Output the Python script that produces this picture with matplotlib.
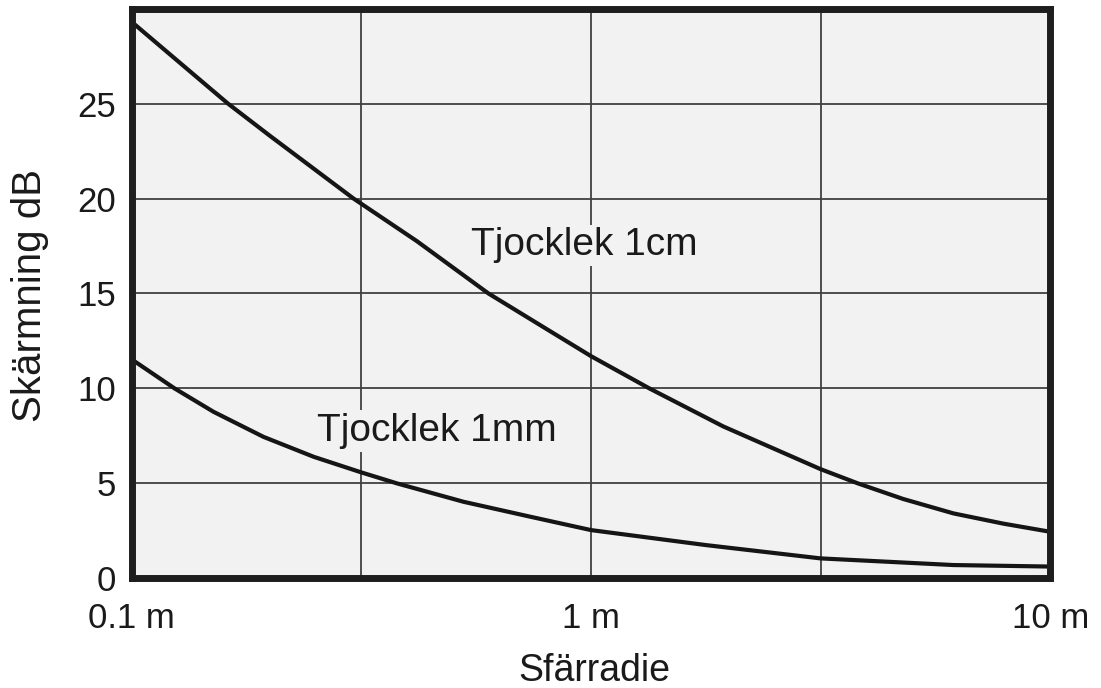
import matplotlib
matplotlib.use('Agg')
import matplotlib.pyplot as plt
from matplotlib.ticker import FixedLocator, NullFormatter

# Values (radius in m, shielding in dB)
radie_1cm = [0.1, 0.162, 0.2, 0.304, 0.418, 0.598, 0.81, 1.0, 1.34, 1.94, 3.16,
             3.81, 4.78, 6.15, 7.9, 10.0]
db_1cm = [29.3, 25.0, 23.3, 20.0, 17.75, 15.0, 13.05, 11.7, 10.0, 8.0, 5.75,
          5.0, 4.18, 3.42, 2.88, 2.45]

radie_1mm = [0.1, 0.124, 0.1507, 0.1936, 0.249, 0.316, 0.378, 0.528, 0.739, 1.0,
             1.78, 3.16, 6.15, 10.0]
db_1mm = [11.53, 10.0, 8.77, 7.45, 6.40, 5.58, 5.0, 4.03, 3.24, 2.54,
          1.75, 1.05, 0.70, 0.62]

x_major = [0.1, 1, 10]
x_minor = [0.316, 3.16]
x_labels = ['0.1 m', '1 m', '10 m']
y_ticks = [0, 5, 10, 15, 20, 25]

plt.rcParams['font.family'] = ['Liberation Sans', 'DejaVu Sans']
text_col = '#1a1a1a'

fig = plt.figure(figsize=(11.01, 6.88), dpi=100)
ax = fig.add_axes([0.1196, 0.1594, 0.9540 - 0.1196, 0.9875 - 0.1594])
ax.set_facecolor('#f2f2f2')

ax.plot(radie_1cm, db_1cm, color='#151515', lw=3.0, solid_joinstyle='round', zorder=3)
ax.plot(radie_1mm, db_1mm, color='#151515', lw=3.0, solid_joinstyle='round', zorder=3)

ax.set_xscale('log')
ax.set_xlim(0.1, 10)
ax.set_ylim(0, 30)

ax.xaxis.set_major_locator(FixedLocator(x_major))
ax.xaxis.set_minor_locator(FixedLocator(x_minor))
ax.xaxis.set_minor_formatter(NullFormatter())
ax.set_xticklabels(x_labels)
ax.set_yticks(y_ticks)

ax.grid(True, which='both', color='#404040', lw=1.3, zorder=1)
ax.set_axisbelow(True)
ax.tick_params(axis='both', which='both', length=0, labelsize=25, colors=text_col)
ax.tick_params(axis='x', pad=17)
ax.tick_params(axis='y', pad=11)

for s in ax.spines.values():
    s.set_linewidth(5)
    s.set_color('#1e1e1e')
    s.set_zorder(5)

box = dict(facecolor='#f2f2f2', edgecolor='none', pad=2)
ax.text(0.548, 17.0, 'Tjocklek 1cm', fontsize=28, color=text_col,
        ha='left', va='baseline', bbox=box, zorder=4)
ax.text(0.2535, 7.23, 'Tjocklek 1mm', fontsize=28, color=text_col,
        ha='left', va='baseline', bbox=box, zorder=4)

fig.text(594 / 1101, 1 - 681 / 688, 'Sfärradie', fontsize=27, color=text_col,
         ha='center', va='baseline')
fig.text(30 / 1101, 1 - 295 / 688, 'Skärmning dB', fontsize=29, color=text_col,
         ha='center', va='center', rotation=90)

fig.savefig('out.png', dpi=100)
